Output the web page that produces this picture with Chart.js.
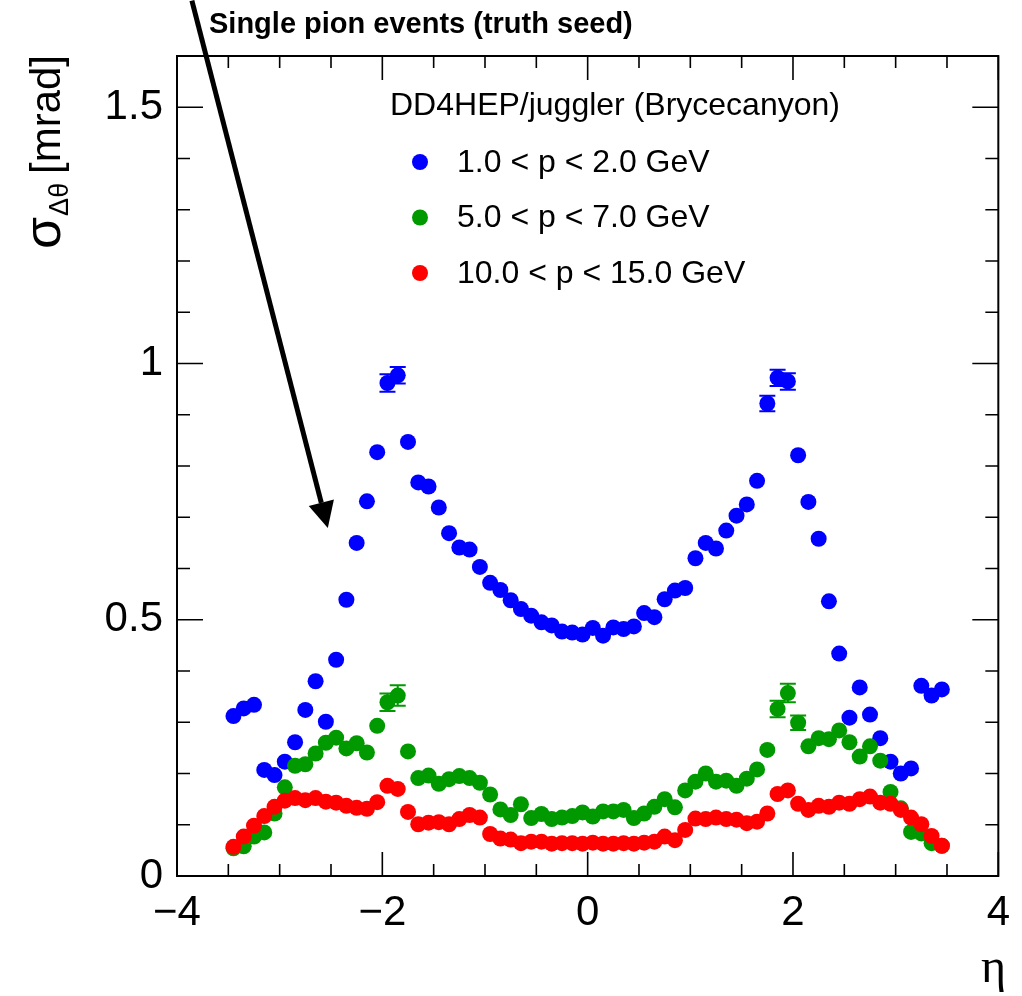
<!DOCTYPE html>
<html lang="en">
<head>
<meta charset="UTF-8">
<title>Single pion events (truth seed)</title>
<script src="https://cdn.jsdelivr.net/npm/chart.js"></script>
<style>
  body { margin: 0; background: #fff; }
  #wrap { width: 1022px; height: 996px; }
</style>
</head>
<body>
<div id="wrap"><canvas id="c" width="1022" height="996"></canvas></div>
<script>
// eta bin centres
const etaBins = [
  -3.45, -3.35, -3.25, -3.15, -3.05, -2.95, -2.85, -2.75, -2.65, -2.55,
  -2.45, -2.35, -2.25, -2.15, -2.05, -1.95, -1.85, -1.75, -1.65, -1.55,
  -1.45, -1.35, -1.25, -1.15, -1.05, -0.95, -0.85, -0.75, -0.65, -0.55,
  -0.45, -0.35, -0.25, -0.15, -0.05, 0.05, 0.15, 0.25, 0.35, 0.45,
  0.55, 0.65, 0.75, 0.85, 0.95, 1.05, 1.15, 1.25, 1.35, 1.45,
  1.55, 1.65, 1.75, 1.85, 1.95, 2.05, 2.15, 2.25, 2.35, 2.45,
  2.55, 2.65, 2.75, 2.85, 2.95, 3.05, 3.15, 3.25, 3.35, 3.45
];

// sigma(delta theta) [mrad], one value per eta bin
const sigmaP1to2 = [
  0.312, 0.327, 0.334, 0.207, 0.197, 0.223, 0.261, 0.324, 0.380, 0.301,
  0.422, 0.539, 0.650, 0.731, 0.827, 0.962, 0.977, 0.847, 0.768, 0.760,
  0.719, 0.669, 0.641, 0.637, 0.603, 0.572, 0.558, 0.538, 0.521, 0.508,
  0.495, 0.489, 0.477, 0.475, 0.471, 0.484, 0.469, 0.485, 0.482, 0.487,
  0.513, 0.505, 0.540, 0.557, 0.562, 0.620, 0.650, 0.639, 0.674, 0.703,
  0.725, 0.771, 0.922, 0.972, 0.965, 0.821, 0.730, 0.658, 0.536, 0.434,
  0.309, 0.368, 0.315, 0.269, 0.223, 0.200, 0.210, 0.371, 0.352, 0.364
];
const sigmaP5to7 = [
  0.054, 0.058, 0.077, 0.085, 0.122, 0.173, 0.215, 0.218, 0.239, 0.260,
  0.270, 0.249, 0.259, 0.241, 0.293, 0.339, 0.352, 0.243, 0.191, 0.196,
  0.180, 0.189, 0.195, 0.191, 0.182, 0.159, 0.130, 0.119, 0.140, 0.113,
  0.121, 0.111, 0.114, 0.117, 0.124, 0.116, 0.126, 0.126, 0.129, 0.113,
  0.122, 0.135, 0.150, 0.134, 0.167, 0.184, 0.200, 0.184, 0.186, 0.176,
  0.190, 0.208, 0.246, 0.326, 0.357, 0.299, 0.253, 0.269, 0.267, 0.284,
  0.261, 0.233, 0.253, 0.225, 0.164, 0.132, 0.086, 0.083, 0.064, 0.059
];
const sigmaP10to15 = [
  0.057, 0.077, 0.098, 0.117, 0.135, 0.147, 0.152, 0.148, 0.152, 0.145,
  0.143, 0.137, 0.133, 0.131, 0.144, 0.176, 0.170, 0.125, 0.101, 0.104,
  0.105, 0.101, 0.111, 0.119, 0.114, 0.082, 0.073, 0.071, 0.064, 0.067,
  0.067, 0.063, 0.064, 0.064, 0.063, 0.065, 0.063, 0.063, 0.064, 0.063,
  0.065, 0.067, 0.077, 0.070, 0.090, 0.112, 0.111, 0.114, 0.111, 0.110,
  0.103, 0.106, 0.122, 0.160, 0.167, 0.141, 0.129, 0.137, 0.135, 0.143,
  0.141, 0.150, 0.155, 0.143, 0.141, 0.129, 0.114, 0.101, 0.078, 0.059
];

// error bars big enough to stick out of the markers: [eta, error]
const errP1to2 = [[-1.95, 0.017], [-1.85, 0.016], [1.75, 0.015], [1.85, 0.016], [1.95, 0.016]];
const errP5to7 = [[-1.95, 0.017], [-1.85, 0.02], [1.85, 0.016], [1.95, 0.018], [2.05, 0.014]];

const seriesLabels = ['1.0 < p < 2.0 GeV', '5.0 < p < 7.0 GeV', '10.0 < p < 15.0 GeV'];
const seriesColors = ['#0000ff', '#009900', '#ff0000'];
const xTickLabels = [-4, -2, 0, 2, 4];
const yTickLabels = [0, 0.5, 1, 1.5];
const plotTitle = 'Single pion events (truth seed)';
const legendHeader = 'DD4HEP/juggler (Brycecanyon)';
// arrow annotation, data coords
const arrowFrom = [-3.855, 1.708];
const arrowTo = [-2.531, 0.679];

const FONT = '"Liberation Sans", Arial, Helvetica, sans-serif';

function pts(ys) {
  return etaBins.map((x, i) => ({ x: x, y: ys[i] }));
}

const rootStyle = {
  id: 'rootStyle',
  beforeDatasetsDraw(chart) {
    const { ctx, scales: { x, y } } = chart;
    const sets = [[errP1to2, sigmaP1to2, seriesColors[0]], [errP5to7, sigmaP5to7, seriesColors[1]]];
    ctx.save();
    ctx.lineWidth = 2;
    sets.forEach(([errs, vals, col]) => {
      ctx.strokeStyle = col;
      errs.forEach(([eta, e]) => {
        const v = vals[etaBins.indexOf(eta)];
        const px = x.getPixelForValue(eta);
        const top = y.getPixelForValue(v + e), bot = y.getPixelForValue(v - e);
        ctx.beginPath();
        ctx.moveTo(px, top); ctx.lineTo(px, bot);
        ctx.moveTo(px - 8, top); ctx.lineTo(px + 8, top);
        ctx.moveTo(px - 8, bot); ctx.lineTo(px + 8, bot);
        ctx.stroke();
      });
    });
    ctx.restore();
  },
  afterDraw(chart) {
    const { ctx, chartArea: a, scales: { x, y } } = chart;
    ctx.save();
    // frame
    ctx.strokeStyle = '#000';
    ctx.lineWidth = 2;
    ctx.strokeRect(a.left, a.top, a.right - a.left, a.bottom - a.top);

    // inward ticks on all four sides
    ctx.lineWidth = 1.6;
    ctx.beginPath();
    for (let v = -4; v <= 4.001; v += 0.5) {
      const px = x.getPixelForValue(v);
      const len = xTickLabels.includes(Math.round(v * 10) / 10) ? 24 : 12;
      ctx.moveTo(px, a.bottom); ctx.lineTo(px, a.bottom - len);
      ctx.moveTo(px, a.top); ctx.lineTo(px, a.top + len);
    }
    for (let k = 0; k <= 16; k++) {
      const v = k / 10;
      const py = y.getPixelForValue(v);
      const len = (k % 5 === 0) ? 26 : 13;
      ctx.moveTo(a.left, py); ctx.lineTo(a.left + len, py);
      ctx.moveTo(a.right, py); ctx.lineTo(a.right - len, py);
    }
    ctx.stroke();

    ctx.fillStyle = '#000';
    // title
    ctx.font = 'bold 29px ' + FONT;
    ctx.textBaseline = 'alphabetic';
    ctx.textAlign = 'left';
    ctx.fillText(plotTitle, 209, 33);

    // legend
    ctx.font = '32px ' + FONT;
    ctx.textBaseline = 'middle';
    ctx.fillText(legendHeader, 390, 106);
    seriesLabels.forEach((lab, i) => {
      const cy = 162 + i * 55.5;
      ctx.fillStyle = seriesColors[i];
      ctx.beginPath();
      ctx.arc(420, cy, 8, 0, Math.PI * 2);
      ctx.fill();
      ctx.fillStyle = '#000';
      ctx.fillText(lab, 457, cy + 1);
    });

    // y axis title
    ctx.save();
    ctx.translate(60, 249);
    ctx.rotate(-Math.PI / 2);
    ctx.textBaseline = 'alphabetic';
    ctx.font = '52px ' + FONT;
    ctx.fillText('σ', 0, 0);
    const sw = ctx.measureText('σ').width;
    ctx.font = '27px ' + FONT;
    ctx.fillText('Δθ', sw + 1, 8);
    ctx.font = '42px ' + FONT;
    ctx.fillText('[mrad]', 75, 0);
    ctx.restore();

    // x axis title
    ctx.font = '48px "Liberation Serif", "DejaVu Serif", serif';
    ctx.textAlign = 'right';
    ctx.textBaseline = 'alphabetic';
    ctx.fillText('η', 1006, 982);

    // arrow
    const x0 = x.getPixelForValue(arrowFrom[0]), y0 = y.getPixelForValue(arrowFrom[1]);
    const x1 = x.getPixelForValue(arrowTo[0]), y1 = y.getPixelForValue(arrowTo[1]);
    const ang = Math.atan2(y1 - y0, x1 - x0);
    const headLen = 26, headW = 13;
    const bx = x1 - headLen * Math.cos(ang), by = y1 - headLen * Math.sin(ang);
    ctx.strokeStyle = '#000';
    ctx.lineWidth = 5;
    ctx.beginPath();
    ctx.moveTo(x0, y0); ctx.lineTo(bx, by);
    ctx.stroke();
    ctx.beginPath();
    ctx.moveTo(x1, y1);
    ctx.lineTo(bx + headW * Math.sin(ang), by - headW * Math.cos(ang));
    ctx.lineTo(bx - headW * Math.sin(ang), by + headW * Math.cos(ang));
    ctx.closePath();
    ctx.fill();
    ctx.restore();
  }
};

new Chart(document.getElementById('c'), {
  type: 'scatter',
  data: {
    datasets: [
      { label: seriesLabels[0], data: pts(sigmaP1to2), backgroundColor: seriesColors[0], order: 2 },
      { label: seriesLabels[1], data: pts(sigmaP5to7), backgroundColor: seriesColors[1], order: 1 },
      { label: seriesLabels[2], data: pts(sigmaP10to15), backgroundColor: seriesColors[2], order: 0 }
    ]
  },
  options: {
    responsive: false,
    animation: false,
    elements: { point: { radius: 8, borderWidth: 0, hoverRadius: 8 } },
    layout: { padding: { top: 56, right: 17, left: 0, bottom: 0 } },
    plugins: { legend: { display: false }, tooltip: { enabled: false } },
    scales: {
      x: {
        type: 'linear', min: -4, max: 4,
        grid: { display: false, drawTicks: false },
        border: { display: false },
        ticks: {
          stepSize: 2, padding: 12, color: '#000',
          font: { family: FONT, size: 42 },
          callback: v => v < 0 ? '\u2212' + Math.abs(v) : String(v)
        },
        afterFit: s => { s.height = 120; }
      },
      y: {
        type: 'linear', min: 0, max: 1.6,
        grid: { display: false, drawTicks: false },
        border: { display: false },
        afterBuildTicks: s => { s.ticks = yTickLabels.map(v => ({ value: v })); },
        ticks: {
          padding: 14, color: '#000',
          font: { family: FONT, size: 42 },
          callback: v => String(v)
        },
        afterFit: s => { s.width = 177; }
      }
    }
  },
  plugins: [rootStyle]
});
</script>
</body>
</html>
